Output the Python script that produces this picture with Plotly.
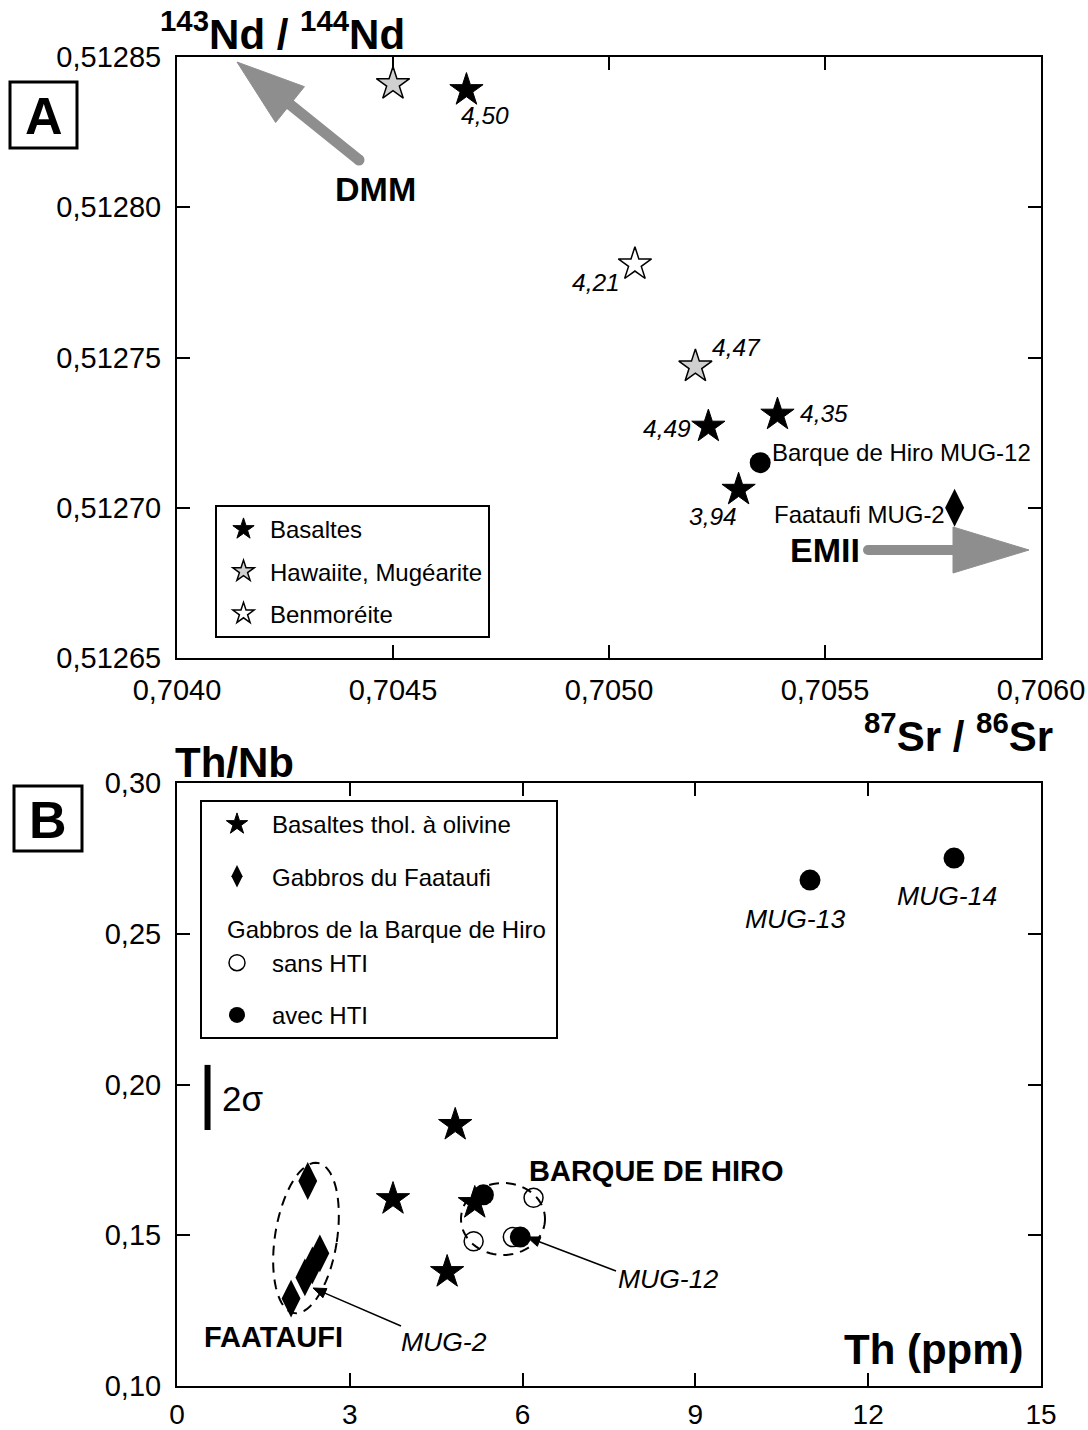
import math
import plotly.graph_objects as go

# ---------------- Panel A data: 87Sr/86Sr vs 143Nd/144Nd ----------------
basalt_sr = [0.70467, 0.70539, 0.70523, 0.70530]
basalt_nd = [0.512839, 0.512731, 0.512727, 0.512706]
basalt_lbl = ["4,50", "4,35", "4,49", "3,94"]

haw_sr = [0.70450, 0.70520]
haw_nd = [0.512841, 0.512747]
haw_lbl = ["", "4,47"]

ben_sr = [0.70506]
ben_nd = [0.512781]
ben_lbl = ["4,21"]

mug12_sr = [0.70535]
mug12_nd = [0.512715]
mug12_lbl = ["Barque de Hiro MUG-12"]

mug2_sr = [0.70580]
mug2_nd = [0.512700]
mug2_lbl = ["Faataufi MUG-2"]

# ---------------- Panel B data: Th (ppm) vs Th/Nb ----------------
bas_th = [4.83, 3.75, 4.69, 5.17]
bas_thnb = [0.1866, 0.162, 0.1378, 0.1607]

faa_th = [2.27, 1.98, 2.22, 2.35, 2.48]
faa_thnb = [0.168, 0.129, 0.136, 0.140, 0.144]

sans_th = [5.15, 5.83, 6.19]
sans_thnb = [0.148, 0.1494, 0.1624]

avec_th = [5.32, 5.96, 10.99, 13.49]
avec_thnb = [0.1634, 0.1494, 0.2678, 0.2751]
avec_lbl = ["", "", "MUG-13", "MUG-14"]

sigma2 = 0.0216

# tick values
a_xticks = [0.7040, 0.7045, 0.7050, 0.7055, 0.7060]
a_yticks = [0.51265, 0.51270, 0.51275, 0.51280, 0.51285]
b_xticks = [0, 3, 6, 9, 12, 15]
b_yticks = [0.10, 0.15, 0.20, 0.25, 0.30]

# ---------------- styling ----------------
W, H = 1088, 1430
FONT = "Liberation Sans, Arial, sans-serif"
GRAY_ARROW = "#8e8e8e"


def px(x):
    return x / W


def py(y):
    return 1 - y / H


fig = go.Figure()

star_black = dict(symbol="star", size=25, color="black", line=dict(color="black", width=1))
star_gray = dict(symbol="star", size=25, color="#d0d0d0", line=dict(color="black", width=1.5))
star_white = dict(symbol="star", size=25, color="white", line=dict(color="black", width=1.5))

# Panel A traces
fig.add_trace(go.Scatter(x=basalt_sr, y=basalt_nd, mode="markers", marker=star_black,
                         name="Basaltes", legend="legend", legendgroup="a1",
                         xaxis="x", yaxis="y"))
fig.add_trace(go.Scatter(x=haw_sr, y=haw_nd, mode="markers", marker=star_gray,
                         name="Hawaiite, Mugéarite", legend="legend", legendgroup="a2",
                         xaxis="x", yaxis="y"))
fig.add_trace(go.Scatter(x=ben_sr, y=ben_nd, mode="markers", marker=star_white,
                         name="Benmoréite", legend="legend", legendgroup="a3",
                         xaxis="x", yaxis="y"))
fig.add_trace(go.Scatter(x=mug12_sr, y=mug12_nd, mode="markers",
                         marker=dict(symbol="circle", size=21, color="black"),
                         showlegend=False, xaxis="x", yaxis="y"))
fig.add_trace(go.Scatter(x=mug2_sr, y=mug2_nd, mode="markers",
                         marker=dict(symbol="diamond-tall", size=27, color="black"),
                         showlegend=False, xaxis="x", yaxis="y"))

# Panel B traces
fig.add_trace(go.Scatter(x=bas_th, y=bas_thnb, mode="markers", marker=star_black,
                         name="Basaltes thol. à olivine", legend="legend2", legendgroup="b1",
                         xaxis="x2", yaxis="y2"))
fig.add_trace(go.Scatter(x=faa_th, y=faa_thnb, mode="markers",
                         marker=dict(symbol="diamond-tall", size=27, color="black"),
                         name="Gabbros du Faataufi", legend="legend2", legendgroup="b2",
                         xaxis="x2", yaxis="y2"))
fig.add_trace(go.Scatter(x=sans_th, y=sans_thnb, mode="markers",
                         marker=dict(symbol="circle", size=19, color="white",
                                     line=dict(color="black", width=1.5)),
                         name="sans HTI", legend="legend2", legendgroup="b3",
                         legendgrouptitle=dict(text="\u00a0\u00a0\u00a0Gabbros de la Barque de Hiro",
                                               font=dict(size=24, family=FONT, color="black")),
                         xaxis="x2", yaxis="y2"))
fig.add_trace(go.Scatter(x=avec_th, y=avec_thnb, mode="markers",
                         marker=dict(symbol="circle", size=21, color="black"),
                         name="avec HTI", legend="legend2", legendgroup="b4",
                         xaxis="x2", yaxis="y2"))

# ---------------- annotations ----------------
ann = []
ital = dict(family=FONT, size=24.5, color="black", style="italic")


def ptext(x, y, text, font, **kw):
    d = dict(x=px(x), y=py(y), xref="paper", yref="paper", text=text, showarrow=False,
             xanchor="center", yanchor="middle", font=font)
    d.update(kw)
    return d


# Panel A labels tied to points with pixel offsets
a_offsets_basalt = [(19, -25), (47, 1), (-41, -2), (-26, -27)]
for xv, yv, t, (dx, dy) in zip(basalt_sr, basalt_nd, basalt_lbl, a_offsets_basalt):
    ann.append(dict(x=xv, y=yv, xref="x", yref="y", text=t, showarrow=False,
                    xanchor="center", yanchor="middle", xshift=dx, yshift=dy, font=ital))
a_offsets_haw = [(0, 0), (41, 19)]
for xv, yv, t, (dx, dy) in zip(haw_sr, haw_nd, haw_lbl, a_offsets_haw):
    if t:
        ann.append(dict(x=xv, y=yv, xref="x", yref="y", text=t, showarrow=False,
                        xanchor="center", yanchor="middle", xshift=dx, yshift=dy, font=ital))
for xv, yv, t in zip(ben_sr, ben_nd, ben_lbl):
    ann.append(dict(x=xv, y=yv, xref="x", yref="y", text=t, showarrow=False,
                    xanchor="center", yanchor="middle", xshift=-39, yshift=-18, font=ital))
ann.append(dict(x=mug12_sr[0], y=mug12_nd[0], xref="x", yref="y", text=mug12_lbl[0],
                showarrow=False, xanchor="left", yanchor="middle", xshift=10, yshift=10,
                font=dict(family=FONT, size=24, color="black")))
ann.append(dict(x=mug2_sr[0], y=mug2_nd[0], xref="x", yref="y", text=mug2_lbl[0],
                showarrow=False, xanchor="right", yanchor="middle", xshift=-8, yshift=-7,
                font=dict(family=FONT, size=24, color="black")))

bold34 = dict(family=FONT, size=34, color="black")
ann.append(ptext(375, 189, "<b>DMM</b>", bold34))
ann.append(ptext(825, 550, "<b>EMII</b>", bold34))

title_font = dict(family=FONT, size=42, color="black")
ann.append(ptext(282, 31, "<b><sup>143</sup>Nd / <sup>144</sup>Nd</b>", title_font))
ann.append(ptext(958, 733, "<b><sup>87</sup>Sr / <sup>86</sup>Sr</b>", title_font))
ann.append(ptext(234, 763, "<b>Th/Nb</b>", title_font))
ann.append(ptext(934, 1349, "<b>Th (ppm)</b>", title_font))

# Panel letters
ann.append(ptext(43.5, 116, "<b>A</b>", dict(family=FONT, size=52, color="black")))
ann.append(ptext(48, 820, "<b>B</b>", dict(family=FONT, size=52, color="black")))

# Panel B labels
b_offsets = [(0, 0), (0, 0), (-15, -39), (-7, -38)]
for xv, yv, t, (dx, dy) in zip(avec_th, avec_thnb, avec_lbl, b_offsets):
    if t:
        ann.append(dict(x=xv, y=yv, xref="x2", yref="y2", text=t, showarrow=False,
                        xanchor="center", yanchor="middle", xshift=dx, yshift=dy,
                        font=dict(family=FONT, size=26.5, color="black", style="italic")))
ann.append(ptext(656, 1171, "<b>BARQUE DE HIRO</b>", dict(family=FONT, size=29, color="black")))
ann.append(ptext(273, 1337, "<b>FAATAUFI</b>", dict(family=FONT, size=29, color="black")))
ann.append(ptext(444, 1342, "MUG-2", dict(family=FONT, size=26.5, color="black", style="italic")))
ann.append(ptext(668, 1279, "MUG-12", dict(family=FONT, size=26.5, color="black", style="italic")))
ann.append(ptext(242, 1098, "2σ", dict(family=FONT, size=35, color="black")))

# ---------------- shapes ----------------
shapes = []


def arrow(x0, y0, x1, y1, width, hlen, hw, color, round_tail=False):
    """shaft from (x0,y0) to tip (x1,y1), pixel coords -> paper shapes"""
    dx, dy = x1 - x0, y1 - y0
    L = math.hypot(dx, dy)
    ux, uy = dx / L, dy / L
    bx, by = x1 - ux * hlen, y1 - uy * hlen
    nx, ny = -uy, ux
    out = [dict(type="line", xref="paper", yref="paper", x0=px(x0), y0=py(y0),
                x1=px(bx + ux * 2), y1=py(by + uy * 2), line=dict(color=color, width=width))]
    out.append(dict(type="path", xref="paper", yref="paper",
                    path=(f"M {px(x1):.5f},{py(y1):.5f} L {px(bx + nx * hw):.5f},{py(by + ny * hw):.5f} "
                          f"L {px(bx - nx * hw):.5f},{py(by - ny * hw):.5f} Z"),
                    fillcolor=color, line=dict(color=color, width=1)))
    if round_tail:
        r = width / 2
        out.append(dict(type="circle", xref="paper", yref="paper", x0=px(x0 - r), x1=px(x0 + r),
                        y0=py(y0 + r), y1=py(y0 - r), fillcolor=color, line=dict(width=0)))
    return out


# boxes for panel letters
shapes.append(dict(type="rect", xref="paper", yref="paper", x0=px(10), x1=px(77), y0=py(148), y1=py(82),
                   line=dict(color="black", width=3)))
shapes.append(dict(type="rect", xref="paper", yref="paper", x0=px(14), x1=px(82), y0=py(851), y1=py(786),
                   line=dict(color="black", width=3)))

# DMM and EMII arrows
shapes += arrow(359, 160, 237, 62, 11, 68, 23, GRAY_ARROW, round_tail=True)
shapes += arrow(868, 550, 1029, 550, 10, 76, 23, GRAY_ARROW, round_tail=True)
# thin arrows panel B
shapes += arrow(401, 1326, 313, 1288, 1.5, 13, 5, "black")
shapes += arrow(616, 1271, 527, 1237, 1.5, 13, 5, "black")


# dashed ellipses (panel B)
def ellipse_path(cx, cy, rx, ry, ang_deg, n=80):
    a = math.radians(ang_deg)
    pts = []
    for i in range(n + 1):
        t = 2 * math.pi * i / n
        ex, ey = rx * math.cos(t), ry * math.sin(t)
        xx = cx + ex * math.cos(a) - ey * math.sin(a)
        yy = cy + ex * math.sin(a) + ey * math.cos(a)
        pts.append((px(xx), py(yy)))
    return "M " + " L ".join(f"{x:.5f},{y:.5f}" for x, y in pts) + " Z"


shapes.append(dict(type="path", xref="paper", yref="paper",
                   path=ellipse_path(306, 1238, 31, 76, 9),
                   line=dict(color="black", width=2, dash="10px,7px")))
shapes.append(dict(type="path", xref="paper", yref="paper",
                   path=ellipse_path(503, 1219, 42, 36, 0),
                   line=dict(color="black", width=2, dash="10px,7px")))

# 2 sigma bar
shapes.append(dict(type="line", xref="x2", yref="y2", x0=0.53, x1=0.53,
                   y0=0.1849, y1=0.1849 + sigma2, line=dict(color="black", width=6)))

# ---------------- axes ----------------
axis_common = dict(showline=True, linecolor="black", linewidth=2, mirror="ticks",
                   ticks="inside", ticklen=13, tickwidth=2, tickcolor="black",
                   showgrid=False, zeroline=False,
                   tickfont=dict(family=FONT, size=29, color="black"))

xa_dom = [px(177), px(1041)]
fig.update_layout(
    width=W, height=H,
    margin=dict(l=0, r=0, t=0, b=0),
    paper_bgcolor="white", plot_bgcolor="white",
    separators=", ",
    template="none",
    font=dict(family=FONT, color="black"),
    xaxis=dict(axis_common, domain=xa_dom, range=[0.7040, 0.7060], tickvals=a_xticks,
               tickformat=".4f", anchor="y", ticklabelstandoff=5),
    yaxis=dict(axis_common, domain=[py(658), py(57)], range=[0.51265, 0.51285], tickvals=a_yticks,
               tickformat=".5f", anchor="x", ticklabelstandoff=8),
    xaxis2=dict(axis_common, domain=xa_dom, range=[0, 15], tickvals=b_xticks,
                tickformat="d", anchor="y2", ticklabelstandoff=2,
                tickfont=dict(family=FONT, size=28, color="black")),
    yaxis2=dict(axis_common, domain=[py(1386), py(783)], range=[0.10, 0.30], tickvals=b_yticks,
                tickformat=".2f", anchor="x2", ticklabelstandoff=8),
    legend=dict(x=px(215), y=py(505), xanchor="left", yanchor="top",
                bordercolor="black", borderwidth=2, bgcolor="white",
                font=dict(family=FONT, size=24, color="black"),
                traceorder="grouped", tracegroupgap=8, itemsizing="trace", itemwidth=43),
    legend2=dict(x=px(200), y=py(800), xanchor="left", yanchor="top",
                 bordercolor="black", borderwidth=2, bgcolor="white",
                 font=dict(family=FONT, size=24, color="black"),
                 traceorder="grouped", tracegroupgap=18, itemsizing="trace", itemwidth=60),
    annotations=ann,
    shapes=shapes,
    showlegend=True,
)

fig.write_html(
    "out.html",
    config={"displayModeBar": False},
    post_script="document.body.style.margin='0';document.body.style.overflow='hidden';",
)
